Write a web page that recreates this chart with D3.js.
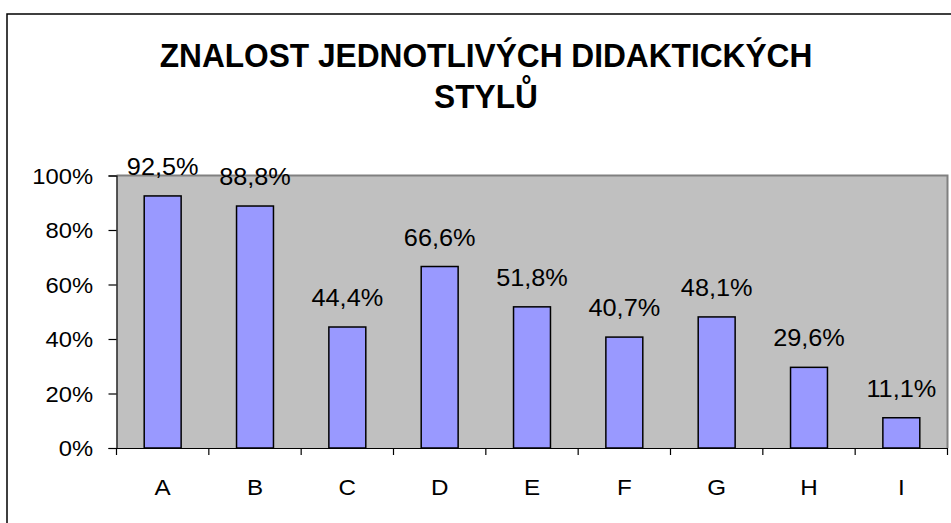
<!DOCTYPE html>
<html>
<head>
<meta charset="utf-8">
<script src="https://cdn.jsdelivr.net/npm/d3@7"></script>
<style>
  html, body { margin: 0; padding: 0; background: #fff; }
  svg { display: block; }
  text { font-family: Arial, "Liberation Sans", sans-serif; fill: #000; }
</style>
</head>
<body>
<svg id="chart" width="951" height="523"></svg>
<script>
const titleLines = ["ZNALOST JEDNOTLIVÝCH DIDAKTICKÝCH", "STYLŮ"];
const categories = ["A", "B", "C", "D", "E", "F", "G", "H", "I"];
const values = [92.5, 88.8, 44.4, 66.6, 51.8, 40.7, 48.1, 29.6, 11.1];
const yTicks = [0, 20, 40, 60, 80, 100];

const svg = d3.select("#chart");
const plot = { left: 116.5, right: 947.5, top: 175.5, bottom: 448 };

// outer chart border (extends beyond the visible area on right/bottom)
svg.append("rect").attr("x", 7).attr("y", 14).attr("width", 960).attr("height", 520)
  .attr("fill", "#fff").attr("stroke", "#000").attr("stroke-width", 1.5);

const xb = d3.scaleBand().domain(categories).range([plot.left, plot.right]).padding(0);
const y = d3.scaleLinear().domain([0, 100]).range([plot.bottom, plot.top]);

// plot area
svg.append("rect").attr("x", plot.left).attr("y", plot.top)
  .attr("width", plot.right - plot.left).attr("height", plot.bottom - plot.top)
  .attr("fill", "#C0C0C0");
svg.append("path")
  .attr("d", `M${plot.left},${plot.top}H${plot.right}V${plot.bottom}`)
  .attr("fill", "none").attr("stroke", "#808080").attr("stroke-width", 2);

// bars
const bw = xb.bandwidth() / 2.5;
svg.append("g").selectAll("rect").data(values).join("rect")
  .attr("x", (d, i) => xb(categories[i]) + (xb.bandwidth() - bw) / 2)
  .attr("y", d => y(d))
  .attr("width", bw)
  .attr("height", d => y(0) - y(d))
  .attr("fill", "#9999FF").attr("stroke", "#000").attr("stroke-width", 1.5);

function stretchedText(g, tx, ty, str, size, anchor, weight, sx) {
  return g.append("text")
    .attr("transform", `translate(${tx},${ty}) scale(${sx},1)`)
    .attr("text-anchor", anchor)
    .attr("font-size", size)
    .attr("font-weight", weight || "normal")
    .text(str);
}

// value labels
const fmt = v => v.toFixed(1).replace(".", ",") + "%";
const lg = svg.append("g");
values.forEach((v, i) => {
  stretchedText(lg, xb(categories[i]) + xb.bandwidth() / 2, y(v) - 21, fmt(v), 23, "middle", "normal", 1.1);
});

// y axis
const yAxis = d3.axisLeft(y).tickValues(yTicks).tickSize(8).tickFormat("");
const ya = svg.append("g").attr("transform", `translate(${plot.left},0)`).call(yAxis);
ya.selectAll("path.domain").attr("stroke", "#000").attr("stroke-width", 1.2);
ya.selectAll(".tick line").attr("stroke", "#000").attr("stroke-width", 1.2);
const yl = svg.append("g");
yTicks.forEach(t => {
  stretchedText(yl, 93, y(t) + 8, t + "%", 22, "end", "normal", 1.08);
});

// x axis
const xAxis = d3.axisBottom(xb).tickSize(0).tickFormat("");
const xa = svg.append("g").attr("transform", `translate(0,${plot.bottom})`).call(xAxis);
xa.selectAll("path.domain").attr("stroke", "#000").attr("stroke-width", 1.2);
xa.selectAll(".tick").remove();
const bounds = categories.map(c => xb(c)).concat([plot.right]);
svg.append("g").selectAll("line").data(bounds).join("line")
  .attr("x1", d => d).attr("x2", d => d)
  .attr("y1", plot.bottom).attr("y2", plot.bottom + 7)
  .attr("stroke", "#000").attr("stroke-width", 1.2);
const xl = svg.append("g");
categories.forEach(c => {
  stretchedText(xl, xb(c) + xb.bandwidth() / 2, 495, c, 22, "middle", "normal", 1.1);
});

// title
const tg = svg.append("g");
stretchedText(tg, 486, 67, titleLines[0], 33, "middle", "bold", 0.96);
stretchedText(tg, 486, 108, titleLines[1], 33, "middle", "bold", 0.96);
</script>
</body>
</html>
